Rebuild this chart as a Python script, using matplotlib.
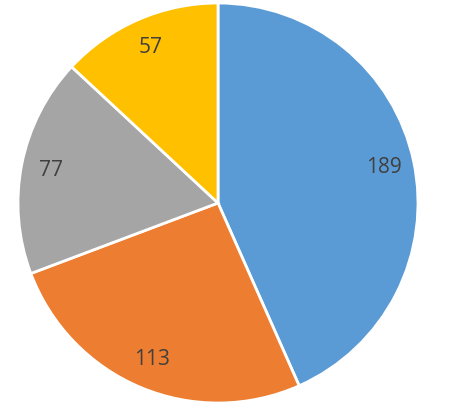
import matplotlib
matplotlib.use('Agg')
import matplotlib.pyplot as plt

# slice values, clockwise from 12 o'clock
values = [189, 113, 77, 57]
colors = ['#5B9BD5', '#ED7D31', '#A5A5A5', '#FFC000']

fig = plt.figure(figsize=(4.49, 4.05), dpi=100)
ax = fig.add_axes([18 / 449, 2 / 405, 400 / 449, 400 / 405])

wedges, texts, autotexts = ax.pie(
    values, colors=colors, startangle=90, counterclock=False,
    autopct=lambda p: '{:.0f}'.format(p * sum(values) / 100),
    pctdistance=0.85, radius=1.0,
    wedgeprops={'edgecolor': 'white', 'linewidth': 2},
)
for t in autotexts:
    t.set_fontsize(15)
    t.set_color('#404040')
    t.set_fontfamily('Open Sans')

ax.set_xlim(-1, 1)
ax.set_ylim(-1, 1)
ax.set_aspect('equal')
ax.axis('off')

fig.savefig('out.png', dpi=100)
